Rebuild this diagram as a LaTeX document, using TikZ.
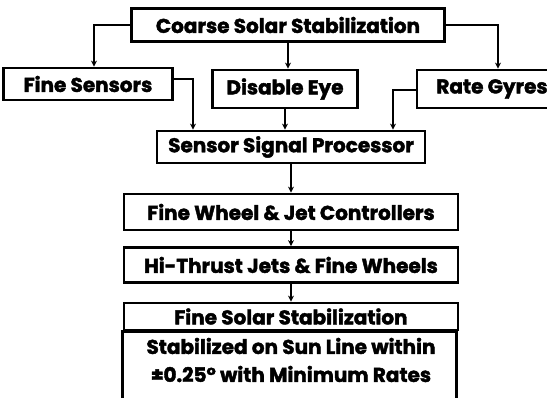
\documentclass[tikz,border=0pt]{standalone}
\usepackage{fontspec}
\setmainfont{Poppins}[BoldFeatures={FakeBold=2}]
\usetikzlibrary{arrows.meta}

\tikzset{
  blk/.style={draw, line width=2.8pt, inner sep=0pt, font=\fontsize{20}{28}\selectfont\bfseries, align=center},
  conn/.style={line width=2.8pt, -{Stealth[length=6pt, width=6pt]}}
}

\begin{document}
\begin{tikzpicture}[x=1pt, y=-1pt]
\useasboundingbox (0, 0) rectangle (547, 398);

\node[blk, minimum width=313pt, minimum height=33pt] (coarse) at (288, 25) {Coarse Solar Stabilization};

\node[blk, minimum width=169pt, minimum height=32pt] (fine) at (88, 84) {Fine Sensors};
\node[blk, minimum width=145pt, minimum height=38pt] (eye) at (285, 89) {Disable Eye};
\node[blk, minimum width=150pt, minimum height=38pt] (gyro) at (492, 89) {Rate Gyres};

\node[blk, minimum width=268pt, minimum height=32pt] (ssp) at (291, 147) {Sensor Signal Processor};
\node[blk, minimum width=334pt, minimum height=36pt] (ctrl) at (291, 212) {Fine Wheel \& Jet Controllers};
\node[blk, minimum width=334pt, minimum height=35pt] (jets) at (291, 265) {Hi-Thrust Jets \& Fine Wheels};
\node[blk, minimum width=334pt, minimum height=27pt] (fss) at (291, 316.5) {Fine Solar Stabilization};
\draw [line width=2.8pt] (fss.south west) rectangle ++(334, 90);
\node[blk, draw=none] (stab) at (291, 360) {Stabilized on Sun Line within\\±0.25° with Minimum Rates};

\draw [conn] (coarse.west) -| ([xshift=6pt]fine.north);
\draw [conn] (coarse.south) -- (coarse.south |- eye.north);
\draw [conn] (coarse.east) -| ([xshift=6pt]gyro.north);

\draw [conn] ([yshift=5pt]fine.east) -| ([xshift=-98pt]ssp.north);
\draw [conn] (eye.south) -- (eye.south |- ssp.north);
\draw [conn] ([yshift=-1pt]gyro.west) -| ([xshift=102pt]ssp.north);

\draw [conn] (ssp) -- (ctrl);
\draw [conn] (ctrl) -- (jets);
\draw [conn] (jets) -- (fss);

\end{tikzpicture}
\end{document}
